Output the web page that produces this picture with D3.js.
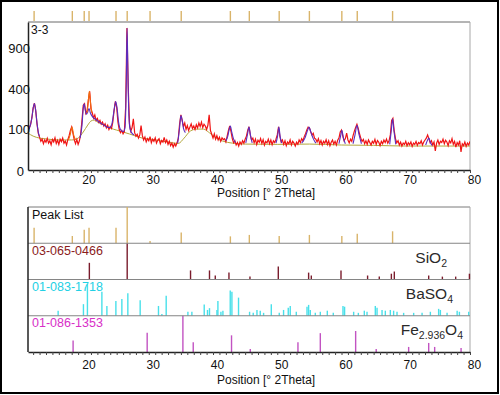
<!DOCTYPE html>
<html><head><meta charset="utf-8">
<script src="https://cdn.jsdelivr.net/npm/d3@7"></script>
<style>body{margin:0;background:#fff}svg{display:block}</style>
</head><body><svg id="c" width="500" height="395"></svg>
<script>
// ---------------- DATA ----------------
const sampleName = "3-3";
const axisTitle = "Position [° 2Theta]";
const xTicks = [20, 30, 40, 50, 60, 70, 80];
const yTicks = [0, 100, 400, 900];

// observed scan (counts), 2Theta from 11.2 in 0.2° steps
const obsStart = 11.2, obsStep = 0.2;
const obsCounts = [
 100,108,125,165,
 235,272,215,130,82,   66,50,58,42,55,   47,61,44,52,39,   57,48,63,43,54,
 40,58,49,62,44,       51,38,56,72,95,   113,82,55,42,57,  40,52,78,150,255,
 268,195,215,300,378,  230,200,165,185,150, 162,138,150,128,140, 118,130,108,122,100,
 115,105,140,215,288,  240,140,100,85,95, 80,90,240,1228,420, 130,92,110,160,85,
 70,78,62,75,120,      72,55,66,48,60,   52,68,45,58,50,   63,44,55,60,42,
 53,47,65,46,55,       40,50,36,44,32,   42,35,45,62,130,  185,150,115,135,100,
 120,95,112,130,105,   118,100,125,108,135, 115,140,110,128,118, 100,122,185,95,78,
 62,80,58,72,55,       66,50,63,56,60,   48,70,95,118,90,  60,45,52,38,46,
 35,48,40,52,44,       58,70,95,114,75,  55,62,45,58,40,   54,47,60,43,56,
 38,50,45,58,42,       55,39,52,46,58,   75,114,70,48,55,  40,52,36,48,42,
 55,38,50,44,35,       47,40,55,46,60,   52,68,80,98,112,  108,90,75,82,62,
 58,48,60,42,53,       38,50,44,56,40,   52,36,47,55,41,   50,38,54,62,88,
 97,70,52,60,83,       55,45,58,50,72,   92,110,127,105,80, 62,50,57,42,52,
 40,55,46,38,50,       44,57,40,53,47,   36,50,42,55,46,   58,44,52,75,150,
 163,95,60,45,52,      38,47,35,44,40,   50,36,45,39,48,   34,44,40,50,37,
 46,42,52,38,48,       55,62,75,60,45,   52,38,48,22,44,   55,40,50,46,58,
 42,54,48,36,52,       45,60,40,50,32,   46,38,52,20,42,   36,48,34,44,38,
 50
];

// background
const bgTheta  = [11.2,12,13,14,16,18,19,19.8,20.5,21,21.5,22,23,24,25,26,27,28,29,30,31,32,33,34,34.6,35.5,36.5,37.5,38.5,39.5,40.5,41.5,43,45,50,55,60,65,70,75,80];
const bgCounts = [83,70,62,59,55,55,62,88,123,146,152,140,123,107,97,88,79,70,62,59,55,51,48,44,43,62,93,102,102,83,62,51,44,41,40,41,38,37,35,35,35];

// calculated profile (null = gap)
const fitTheta = [
 11.2,11.5,11.8,12.0,12.2,12.4,12.6,12.8,13.0, null,
 19.3,19.6,19.8,19.95,20.1,20.3,20.5,20.7,20.9,21.2,21.6,22.0,22.5,23.0,23.5,24.0,24.3,24.6,24.85,25.05,25.3,25.6,26.0,26.3,26.5,26.62,26.75,26.9,27.1,27.4,27.7, null,
 34.5,34.8,35.0,35.2,35.4,35.7, null,
 42.0,42.3,42.55,42.7,42.9,43.2,43.5, null,
 45.1,45.35,45.6,45.85,46.1, null,
 49.8,50.05,50.25,50.45,50.7, null,
 53.8,54.3,54.7,54.95,55.2,55.6,56.0, null,
 59.6,59.85,60.05,60.3,60.6, null,
 61.8,62.1,62.4,62.7,63.1, null,
 67.5,67.75,67.95,68.15,68.45, null,
 73.1,73.4,73.6,73.85,74.1
];
const fitCounts = [
 95,115,165,230,270,215,135,88,68, null,
 62,120,230,268,225,190,205,230,200,175,160,148,135,123,113,110,135,220,285,240,140,100,90,110,450,1228,600,180,100,82,76, null,
 44,110,180,150,105,85, null,
 52,70,105,118,90,58,46, null,
 45,75,112,70,45, null,
 44,70,112,68,44, null,
 44,62,95,112,90,60,44, null,
 42,70,96,62,42, null,
 42,75,122,80,42, null,
 40,95,160,95,40, null,
 38,55,62,45,37
];
// second-phase profile (orange)
const fit2Theta  = [17.5,17.8,18.05,18.3,18.6, null, 20.4,20.6,20.75,20.9,21.1];
const fit2Counts = [55,80,112,75,55, null, 200,300,378,290,200];

// peak list
const peakPos = [12.15,18.1,19.95,20.7,24.9,26.64,30.2,35.05,42.7,45.65,50.3,55.0,60.05,62.45,67.95];
const peakRel = [43,20,37,43,43,100,6,30,19,23,20,23,20,26,33];

// reference patterns
const refCodes = ["03-065-0466", "01-083-1718", "01-086-1353"];
const sio2Pos = [20.75,26.64,36.5,39.45,40.35,42.48,45.75,50.16,54.88,55.3,59.92,64.06,65.88,67.76,68.22,73.57,75.7,77.77,79.91];
const sio2Rel = [46,100,25,25,11,19,8,36,19,11,25,11,8,16,22,11,8,8,16];
const baso4Pos = [15.89,19.83,20.45,22.7,23.48,24.88,25.81,26.74,28.66,31.51,32.04,32.71,36.09,36.71,38.63,39.14,39.45,40.61,40.76,41.23,41.54,42.68,42.94,43.97,45.69,46.26,46.84,47.35,47.87,49.07,50.31,50.98,51.71,52.02,52.96,54.63,54.88,55.14,55.92,56.7,57.79,58.72,60.23,60.48,61.89,62.62,63.55,63.97,65.26,65.53,66.31,66.82,67.6,68.11,68.64,69.67,71.23,72.54,73.83,75.12,75.39,76.43,78.0,78.35,79.8];
const baso4Rel = [14,32,87,66,27,41,46,62,43,27,5,55,11,11,31,16,21,16,41,11,14,70,66,50,11,8,16,14,8,32,8,16,22,27,11,25,30,16,8,11,14,8,27,25,11,8,14,11,27,22,16,14,16,14,11,8,8,8,11,19,16,8,14,11,11];
const fePos = [18.22,29.75,35.31,36.92,42.88,45.8,53.22,56.7,62.2,65.4,70.45,73.57,74.5,78.61];
const feRel = [32,53,100,27,46,8,27,52,58,8,14,25,14,11];

// ---------------- DRAW ----------------
const FONT = "'Liberation Sans', Arial, sans-serif";
const svg = d3.select("#c").attr("font-family", FONT);

svg.append("rect").attr("x",1).attr("y",1).attr("width",497).attr("height",392)
  .attr("fill","#fff").attr("stroke","#000").attr("stroke-width",2);

const L = 28, R = 470;
const x = d3.scaleLinear().domain([11.2, 80]).range([L, R]);
const y = d3.scaleSqrt().domain([0, 1335]).range([170, 22]);

// ---- top plot ----
const gTop = svg.append("g");
gTop.append("line").attr("x1",L).attr("x2",R).attr("y1",22).attr("y2",22).attr("stroke","#6a6a6a");
gTop.append("line").attr("x1",R).attr("x2",R).attr("y1",22).attr("y2",170).attr("stroke","#a8a8a8");

// peak markers above plot
gTop.selectAll("line.pm").data(peakPos).join("line").attr("class","pm")
  .attr("x1",d=>x(d)).attr("x2",d=>x(d)).attr("y1",11).attr("y2",21)
  .attr("stroke","#d9b46a").attr("stroke-width",1.4);

svg.append("clipPath").attr("id","clipTop").append("rect")
  .attr("x",L).attr("y",22).attr("width",R-L).attr("height",148);

const plot = gTop.append("g").attr("clip-path","url(#clipTop)");
const lineLin = d3.line().defined(d=>d[1]!=null).x(d=>x(d[0])).y(d=>y(d[1]));
const lineSmooth = d3.line().defined(d=>d[1]!=null).x(d=>x(d[0])).y(d=>y(d[1])).curve(d3.curveMonotoneX);

const obs = obsCounts.map((c,i)=>[obsStart + i*obsStep, c]);
const bg = bgTheta.map((t,i)=>[t, bgCounts[i]]);
const fit = fitTheta.map((t,i)=>[t, fitCounts[i]]);
const fit2 = fit2Theta.map((t,i)=>[t, fit2Counts[i]]);

plot.append("path").datum(bg).attr("d",lineSmooth).attr("fill","none")
  .attr("stroke","#b3a83c").attr("stroke-width",1);
plot.append("path").datum(obs).attr("d",lineLin).attr("fill","none")
  .attr("stroke","#f01414").attr("stroke-width",1.2);
plot.append("path").datum(fit).attr("d",lineSmooth).attr("fill","none")
  .attr("stroke","#5a2cc0").attr("stroke-width",1.1);
plot.append("path").datum(fit2).attr("d",lineSmooth).attr("fill","none")
  .attr("stroke","#f06a10").attr("stroke-width",1.1);

gTop.append("text").attr("x",31).attr("y",33.5).attr("font-size",12).attr("fill","#111").text(sampleName);

// axes
function styleXAxis(g) {
  g.select(".domain").attr("stroke","#222").attr("stroke-width",1.5);
  g.selectAll(".tick line").attr("stroke","#444");
  g.selectAll(".tick text").attr("dx",4).attr("fill","#111");
  g.attr("font-family",FONT).attr("font-size",12);
}
const xAxis = (pad) => d3.axisBottom(x).tickValues(d3.range(12,81)).tickSize(3).tickSizeOuter(0)
  .tickPadding(pad).tickFormat(d => xTicks.includes(d) ? d : "");

gTop.append("g").attr("transform","translate(0,170)").call(xAxis(2.5)).call(styleXAxis);
const ya = gTop.append("g").attr("transform",`translate(${L},0)`)
  .call(d3.axisLeft(y).tickValues(yTicks).tickSize(0).tickSizeOuter(0).tickPadding(-2).tickFormat(d3.format("d")));
ya.attr("font-family",FONT).attr("font-size",13);
ya.select(".domain").attr("stroke","#222").attr("stroke-width",1.5);
ya.selectAll(".tick text").attr("fill","#111").filter(d=>d===0).attr("dx",-6).attr("dy","0.45em");

gTop.append("text").attr("x",217).attr("y",197).attr("font-size",12).attr("fill","#111").text(axisTitle);

// ---- bottom plot ----
const rowLabels = ["Peak List", ...refCodes];
const rowLabelColors = ["#111", "#8a1c1c", "#22d0e4", "#d830c8"];
const stickSets = [
  {pos: peakPos, rel: peakRel, color: "#d9b46a"},
  {pos: sio2Pos, rel: sio2Rel, color: "#7a1c2c"},
  {pos: baso4Pos, rel: baso4Rel, color: "#48e0ea"},
  {pos: fePos, rel: feRel, color: "#c253c2"}
];
const rows = d3.scaleBand().domain(d3.range(4)).range([207, 352]);
const bw = rows.bandwidth();
const h = d3.scaleLinear().domain([0,100]).range([0, bw]);

const bot = svg.append("g");
bot.append("line").attr("x1",L).attr("x2",R).attr("y1",207).attr("y2",207).attr("stroke","#7a7a7a");
bot.append("line").attr("x1",R).attr("x2",R).attr("y1",207).attr("y2",352).attr("stroke","#a8a8a8");

stickSets.forEach((s,i) => {
  const base = rows(i) + bw;
  bot.append("g").selectAll("line").data(s.pos).join("line")
    .attr("x1",d=>x(d)).attr("x2",d=>x(d))
    .attr("y1",base).attr("y2",(d,j)=>base - h(s.rel[j]))
    .attr("stroke",s.color).attr("stroke-width",1.4);
  if (i > 0) bot.append("line").attr("x1",L).attr("x2",R).attr("y1",rows(i)).attr("y2",rows(i)).attr("stroke","#858585");
  bot.append("text").attr("x",32).attr("y",rows(i)+11.5).attr("font-size",12.5)
    .attr("fill",rowLabelColors[i]).text(rowLabels[i]);
});

// phase formulas
const formulas = [
  {row:1, xEnd:447, parts:[["SiO",0],["2",1]]},
  {row:2, xEnd:453, parts:[["BaSO",0],["4",1]]},
  {row:3, xEnd:463, parts:[["Fe",0],["2.936",1],["O",0],["4",1]]}
];
formulas.forEach(f => {
  const t = bot.append("text").attr("x",f.xEnd).attr("y",rows(f.row)+23.5)
    .attr("text-anchor","end").attr("font-size",15.5).attr("fill","#2a2a2a");
  f.parts.forEach(p => {
    t.append("tspan").attr("font-size", p[1] ? 10.5 : 15.5)
     .attr("dy", p[1] ? 4 : -4).text(p[0]);
  });
});

bot.append("g").attr("transform","translate(0,352)").call(xAxis(5)).call(styleXAxis);
bot.append("line").attr("x1",L).attr("x2",L).attr("y1",207).attr("y2",352).attr("stroke","#222").attr("stroke-width",1.5);
bot.append("text").attr("x",217).attr("y",383.5).attr("font-size",12).attr("fill","#111").text(axisTitle);
</script>
</body></html>
